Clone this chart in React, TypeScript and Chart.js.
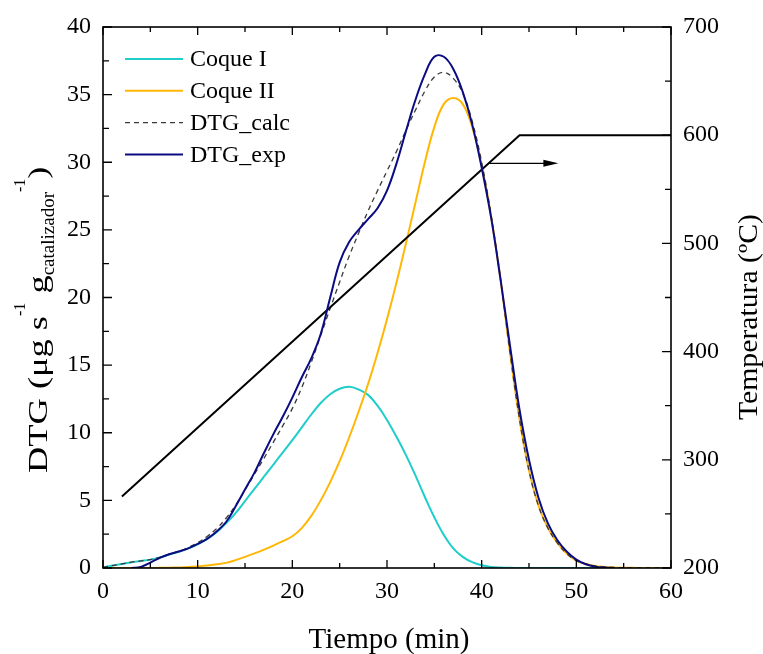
import React, { useEffect, useRef } from "react";
import { Chart, registerables } from "chart.js";

Chart.register(...registerables);

const FONT = "'Liberation Serif', 'Times New Roman', serif";

// Time axis (min)
const timeMin = [
  0, 1, 2, 3, 4, 5, 6, 7, 8, 9, 10, 11, 12, 13, 14, 15, 16, 17, 18, 19, 20,
  21, 22, 23, 24, 25, 26, 27, 28, 29, 30, 31, 32, 33, 34, 35, 36, 37, 38, 39, 40,
  41, 42, 43, 44, 45, 46, 47, 48, 49, 50, 51, 52, 53, 54, 55, 56, 57, 58, 59, 60,
];

// Coque I (cyan)
const coqueI = [
  0.05, 0.18, 0.3, 0.43, 0.52, 0.62, 0.78, 1.0, 1.2, 1.45, 1.75,
  2.15, 2.65, 3.3, 4.05, 4.95, 5.85, 6.75, 7.65, 8.55, 9.45,
  10.4, 11.35, 12.2, 12.85, 13.25, 13.4, 13.2, 12.8, 12.0, 10.95,
  9.7, 8.35, 6.85, 5.25, 3.75, 2.45, 1.45, 0.82, 0.43, 0.2,
  0.08, 0.03, 0.01, 0, 0, 0, 0, 0, 0, 0,
  0, 0, 0, 0, 0, 0, 0, 0, 0, 0,
];

// Coque II (orange)
const coqueII = [
  0, 0, 0, 0, 0, 0, 0.01, 0.02, 0.04, 0.07, 0.12,
  0.18, 0.27, 0.38, 0.58, 0.82, 1.08, 1.36, 1.66, 1.98, 2.35,
  2.95, 3.85, 5.0, 6.35, 7.9, 9.65, 11.55, 13.6, 15.9, 18.4,
  21.1, 24.0, 27.0, 30.0, 32.6, 34.3, 34.75, 34.3, 32.6, 29.8,
  26.0, 21.3, 15.9, 11.0, 7.2, 4.6, 2.95, 1.85, 1.05, 0.55,
  0.3, 0.15, 0.08, 0.04, 0.02, 0.01, 0, 0, 0, 0,
];

// DTG_calc (dashed)
const dtgCalc = [
  0.05, 0.18, 0.3, 0.43, 0.52, 0.62, 0.79, 1.02, 1.24, 1.52, 1.87,
  2.33, 2.92, 3.68, 4.63, 5.77, 6.93, 8.11, 9.31, 10.53, 11.8,
  13.35, 15.2, 17.2, 19.2, 21.15, 23.05, 24.75, 26.4, 27.9, 29.35,
  30.8, 32.35, 33.85, 35.25, 36.3, 36.65, 36.2, 35.12, 33.03, 30.0,
  26.08, 21.33, 15.91, 11.0, 7.2, 4.6, 2.95, 1.85, 1.05, 0.55,
  0.3, 0.15, 0.08, 0.04, 0.02, 0.01, 0, 0, 0, 0,
];

// DTG_exp (navy)
const dtgExp = [
  null, null, null, 0, 0.08, 0.4, 0.75, 1.02, 1.22, 1.45, 1.78,
  2.15, 2.7, 3.4, 4.55, 5.8, 7.05, 8.5, 9.9, 11.2, 12.6,
  14.1, 15.5, 17.3, 20.0, 22.6, 24.1, 25.0, 25.8, 26.6, 27.9,
  29.9, 32.3, 34.6, 36.5, 37.8, 37.8, 36.9, 35.2, 32.8, 29.6,
  25.9, 21.3, 16.4, 11.7, 8.0, 5.2, 3.3, 2.05, 1.2, 0.62,
  0.28, 0.1, 0.03, 0, null, null, null, null, null, null,
];

// Temperature programme (right axis, ºC)
const tempTime = [2, 44, 60];
const tempValues = [266, 600, 600];

// Arrow pointing to the right axis
const arrowTime = [40.7, 48.1];
const arrowTemp = [574, 574];

const seriesNames = ["Coque I", "Coque II", "DTG_calc", "DTG_exp"];
const seriesColors = ["#1fcdcb", "#ffb703", "#3a3a3a", "#0b0b82"];

const toPoints = (xs: number[], ys: (number | null)[]) =>
  xs.map((x, i) => ({ x, y: ys[i] }));

const decorPlugin = {
  id: "decor",
  afterDatasetsDraw(chart: any) {
    const { ctx, chartArea } = chart;
    const { left, right, top, bottom } = chartArea;
    const xs = chart.scales.x;
    const ys = chart.scales.y;
    const y2 = chart.scales.y2;
    ctx.save();

    // arrow
    const ax1 = xs.getPixelForValue(arrowTime[0]);
    const ax2 = xs.getPixelForValue(arrowTime[1]);
    const ay = y2.getPixelForValue(arrowTemp[0]);
    ctx.strokeStyle = "#000";
    ctx.fillStyle = "#000";
    ctx.lineWidth = 1.3;
    ctx.beginPath();
    ctx.moveTo(ax1, ay);
    ctx.lineTo(ax2 - 12, ay);
    ctx.stroke();
    ctx.beginPath();
    ctx.moveTo(ax2, ay);
    ctx.lineTo(ax2 - 15, ay - 3.5);
    ctx.lineTo(ax2 - 15, ay + 3.5);
    ctx.closePath();
    ctx.fill();

    // frame
    ctx.lineWidth = 1.6;
    ctx.strokeStyle = "#000";
    ctx.strokeRect(left, top, right - left, bottom - top);

    // ticks
    ctx.lineWidth = 1.3;
    ctx.beginPath();
    for (let v = 0; v <= 60; v += 5) {
      const p = xs.getPixelForValue(v);
      const len = v % 10 === 0 ? 8 : 5;
      ctx.moveTo(p, bottom);
      ctx.lineTo(p, bottom - len);
      ctx.moveTo(p, top);
      ctx.lineTo(p, top + len);
    }
    for (let v = 0; v <= 40; v += 2.5) {
      const p = ys.getPixelForValue(v);
      const len = v % 5 === 0 ? 9 : 6;
      ctx.moveTo(left, p);
      ctx.lineTo(left + len, p);
    }
    for (let v = 200; v <= 700; v += 50) {
      const p = y2.getPixelForValue(v);
      const len = v % 100 === 0 ? 9 : 6;
      ctx.moveTo(right, p);
      ctx.lineTo(right - len, p);
    }
    ctx.stroke();

    // legend
    ctx.textBaseline = "middle";
    ctx.textAlign = "left";
    ctx.font = `24px ${FONT}`;
    chart.data.datasets.slice(0, 4).forEach((ds: any, i: number) => {
      const y = 59 + i * 31.8;
      ctx.save();
      ctx.strokeStyle = ds.borderColor;
      ctx.lineWidth = ds.borderWidth;
      ctx.setLineDash(ds.borderDash || []);
      ctx.beginPath();
      ctx.moveTo(125, y);
      ctx.lineTo(183, y);
      ctx.stroke();
      ctx.restore();
      ctx.fillStyle = "#000";
      ctx.fillText(ds.label, 190, y + 1);
    });

    // left axis title with super/subscripts
    const parts = [
      { t: "DTG (\u03bcg s", size: 28, dy: 0, sx: 1.3 },
      { t: "-1", size: 16, dy: -22, sx: 1.0 },
      { t: " g", size: 28, dy: 0, sx: 1.3 },
      { t: "catalizador", size: 19, dy: 7, sx: 1.0 },
      { t: "-1", size: 16, dy: -22, sx: 1.0 },
      { t: ")", size: 28, dy: 0, sx: 1.3 },
    ];
    ctx.save();
    ctx.translate(47, 473);
    ctx.rotate(-Math.PI / 2);
    ctx.textBaseline = "alphabetic";
    let cx = 0;
    for (const p of parts) {
      ctx.font = `${p.size}px ${FONT}`;
      ctx.save();
      ctx.translate(cx, p.dy);
      ctx.scale(p.sx, 1);
      ctx.fillText(p.t, 0, 0);
      ctx.restore();
      cx += ctx.measureText(p.t).width * p.sx;
    }
    ctx.restore();

    // right axis title
    ctx.save();
    ctx.translate(757, 420);
    ctx.rotate(-Math.PI / 2);
    ctx.scale(1.1, 1);
    ctx.textBaseline = "alphabetic";
    ctx.font = `27px ${FONT}`;
    ctx.fillText("Temperatura (\u00baC)", 0, 0);
    ctx.restore();

    // bottom axis title
    ctx.textAlign = "center";
    ctx.textBaseline = "alphabetic";
    ctx.font = `29px ${FONT}`;
    ctx.fillText("Tiempo (min)", (left + right) / 2 + 2, 648);

    ctx.restore();
  },
};

export default function App() {
  const ref = useRef<HTMLCanvasElement>(null);

  useEffect(() => {
    document.body.style.margin = "0";
    document.body.style.overflow = "hidden";
    const canvas = ref.current;
    if (!canvas) return;
    Chart.defaults.font.family = FONT;
    const curve = (i: number, ys: (number | null)[], extra: any) => ({
      label: seriesNames[i],
      data: toPoints(timeMin, ys),
      borderColor: seriesColors[i],
      borderWidth: 2,
      pointRadius: 0,
      tension: 0.4,
      yAxisID: "y",
      ...extra,
    });
    const chart = new Chart(canvas, {
      type: "line",
      data: {
        datasets: [
          curve(0, coqueI, { order: 4 }),
          curve(1, coqueII, { order: 3 }),
          curve(2, dtgCalc, { order: 2, borderWidth: 1.3, borderDash: [5, 4] }),
          curve(3, dtgExp, { order: 0 }),
          {
            label: "Temperatura",
            data: toPoints(tempTime, tempValues),
            borderColor: "#000",
            borderWidth: 2,
            pointRadius: 0,
            tension: 0,
            yAxisID: "y2",
            order: 1,
          },
        ],
      } as any,
      options: {
        animation: false,
        responsive: false,
        layout: { padding: { top: 27, left: 0, right: 0, bottom: 0 } },
        plugins: {
          legend: { display: false },
          tooltip: { enabled: false },
        },
        scales: {
          x: {
            type: "linear",
            min: 0,
            max: 60,
            grid: { display: false, drawTicks: false },
            border: { display: false },
            ticks: {
              stepSize: 10,
              color: "#000",
              font: { size: 24, family: FONT },
              padding: 9,
              maxRotation: 0,
            },
            afterFit: (s: any) => {
              s.height = 86;
            },
          },
          y: {
            type: "linear",
            position: "left",
            min: 0,
            max: 40,
            grid: { display: false, drawTicks: false },
            border: { display: false },
            ticks: {
              stepSize: 5,
              color: "#000",
              font: { size: 24, family: FONT },
              padding: 12,
            },
            afterFit: (s: any) => {
              s.width = 103;
            },
          },
          y2: {
            type: "linear",
            position: "right",
            min: 200,
            max: 700,
            grid: { display: false, drawTicks: false },
            border: { display: false },
            ticks: {
              stepSize: 100,
              color: "#000",
              font: { size: 24, family: FONT },
              padding: 12,
            },
            afterFit: (s: any) => {
              s.width = 92;
            },
          },
        },
      } as any,
      plugins: [decorPlugin],
    });
    return () => chart.destroy();
  }, []);

  return (
    <div style={{ width: 763, height: 654, background: "#fff" }}>
      <canvas ref={ref} width={763} height={654} style={{ display: "block" }} />
    </div>
  );
}
